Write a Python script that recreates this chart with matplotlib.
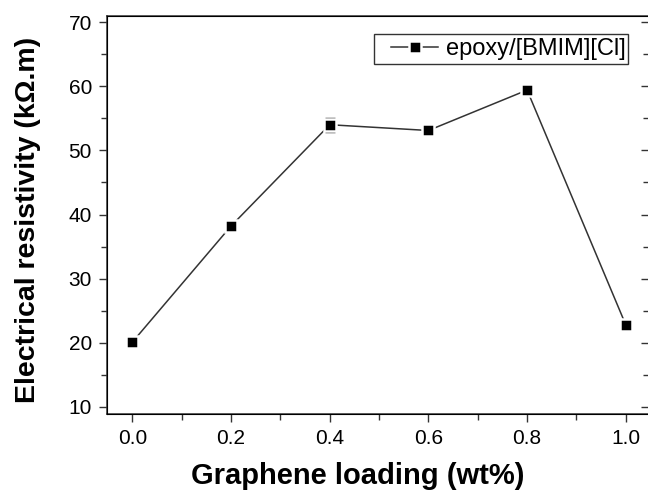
import matplotlib.pyplot as plt
from matplotlib.ticker import MultipleLocator
from matplotlib.patches import Rectangle

plt.rcParams['font.family'] = ['Liberation Sans', 'DejaVu Sans']

# data
loading = [0.0, 0.2, 0.4, 0.6, 0.8, 1.0]
resistivity = [20.1, 38.2, 54.0, 53.1, 59.4, 22.8]
err = [0.3, 0.3, 1.1, 0.3, 0.3, 0.5]
series_name = 'epoxy/[BMIM][Cl]'

fig = plt.figure(figsize=(6.48, 4.98), dpi=100, facecolor='white')
ax = fig.add_axes([0.1656, 0.1687, 0.8359, 0.7998])

ax.errorbar(loading, resistivity, yerr=err, fmt='none', ecolor='black',
            elinewidth=1, capsize=3.5, capthick=1, zorder=2)
ax.plot(loading, resistivity, '-', color='#333333', lw=1.1, marker='s', ms=8.5,
        mfc='black', mec='white', mew=1.8, label=series_name, zorder=3)

ax.set_xlim(-0.0507, 1.047)
ax.set_ylim(8.9, 71.0)
ax.xaxis.set_major_locator(MultipleLocator(0.2))
ax.xaxis.set_minor_locator(MultipleLocator(0.1))
ax.yaxis.set_major_locator(MultipleLocator(10))
ax.yaxis.set_minor_locator(MultipleLocator(5))
ax.xaxis.set_major_formatter(plt.FuncFormatter(lambda v, p: '%.1f' % v))

ax.tick_params(which='both', direction='out', labelsize=15, color='#333333',
               top=False, right=False)
ax.tick_params(which='major', length=6, width=1, pad=5)
ax.tick_params(which='minor', length=4, width=1)
for s in ax.spines.values():
    s.set_color('#333333')
    s.set_linewidth(1.1)

# inward ticks on the right side
ax2 = ax.twinx()
ax2.set_ylim(ax.get_ylim())
ax2.yaxis.set_major_locator(MultipleLocator(10))
ax2.yaxis.set_minor_locator(MultipleLocator(5))
ax2.tick_params(which='both', direction='in', labelright=False, color='#333333')
ax2.tick_params(which='major', length=6, width=1)
ax2.tick_params(which='minor', length=4, width=1)

ax.set_xlabel('Graphene loading (wt%)', fontsize=21, fontweight='bold')
ax.xaxis.set_label_coords(0.463, -0.12)
ax.set_ylabel('Electrical resistivity (k\u03a9.m)', fontsize=20.5, fontweight='bold')
ax.yaxis.set_label_coords(-0.123, 0.487)

# legend with a hand-placed frame (more room on the left, as in the original)
ax.add_patch(Rectangle((0.4923, 0.8787), 0.4687, 0.0753, transform=ax.transAxes,
                       fill=False, edgecolor='#333333', lw=1, zorder=4))
ax.legend(loc='center right', bbox_to_anchor=(0.958, 0.916), fontsize=17,
          frameon=False, handlelength=2.0, borderpad=0, handletextpad=0.35,
          borderaxespad=0)

fig.savefig('out.png', dpi=100)
